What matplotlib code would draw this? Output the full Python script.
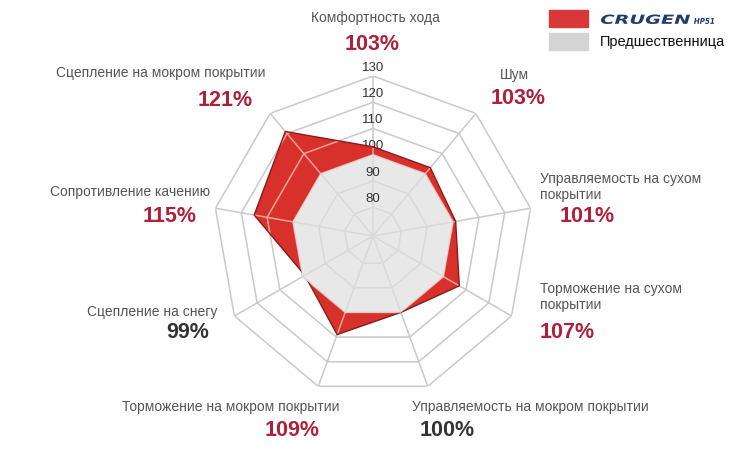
import numpy as np
import matplotlib
matplotlib.use("Agg")
import matplotlib.pyplot as plt
from matplotlib.patches import Rectangle, PathPatch
from matplotlib.textpath import TextPath
from matplotlib.font_manager import FontProperties
from matplotlib.transforms import Affine2D, IdentityTransform

plt.rcParams['font.family'] = ['Liberation Sans', 'DejaVu Sans']

# ---- data ----
categories = ["Комфортность хода", "Шум", "Управляемость на сухом\nпокрытии",
              "Торможение на сухом\nпокрытии", "Управляемость на мокром покрытии",
              "Торможение на мокром покрытии", "Сцепление на снегу",
              "Сопротивление качению", "Сцепление на мокром покрытии"]
new_values = [103, 103, 101, 107, 100, 109, 99, 115, 121]
old_values = [100, 100, 100, 100, 100, 100, 100, 100, 100]
ring_ticks = [80, 90, 100, 110, 120, 130]
series_names = ["CRUGEN", "Предшественница"]

# ---- layout (figure pixel coords, top-left origin) ----
W, H = 750, 450
label_pos = [(375, 18, 'center'), (514, 75, 'center'), (540, 187, 'left'),
             (540, 297, 'left'), (530, 407, 'center'), (231, 407, 'center'),
             (217, 312, 'right'), (210, 192, 'right'), (266, 73, 'right')]
pct_pos = [(372, 44, 'center'), (518, 99, 'center'), (560, 216, 'left'),
           (540, 332, 'left'), (420, 431, 'left'), (292, 430, 'center'),
           (209, 333, 'right'), (197, 216, 'right'), (253, 100, 'right')]

fig = plt.figure(figsize=(7.5, 4.5), dpi=100)
cx, cy, R = 373, 236, 160
ax = fig.add_axes([(cx - R) / W, 1 - (cy + R) / H, 2 * R / W, 2 * R / H],
                  projection='polar')
ax.set_theta_zero_location('N')
ax.set_theta_direction(-1)
rmin, rmax = 69, 130
ax.set_ylim(rmin, rmax)
ax.grid(False)
ax.spines['polar'].set_visible(False)
ax.set_xticks([])
ax.set_yticks([])
ax.patch.set_alpha(0)

n = len(categories)
ang = np.arange(n) * 2 * np.pi / n
ang_c = np.append(ang, ang[0])


def draw_grid(color, z, clip=None):
    lines = []
    for t in ring_ticks:
        lines += ax.plot(ang_c, [t] * (n + 1), color=color, lw=1.1, zorder=z)
    for a in ang:
        lines += ax.plot([a, a], [rmin, rmax], color=color, lw=1.1, zorder=z)
    if clip is not None:
        for l in lines:
            l.set_clip_path(clip)


draw_grid('#c9c9c9', 1)

# tick labels
for t in ring_ticks:
    z = 1.5 if t == 100 else 6
    ax.text(0, t + 3.2, str(t), ha='center', va='center', fontsize=9.5,
            color='#333333', zorder=z)

# new tyre polygon
newc = np.append(new_values, new_values[0])
red = ax.fill(ang_c, newc, color='#d8302b', zorder=2, lw=0)[0]
ax.plot(ang_c, newc, color='#8c1a1a', lw=1.0, zorder=2.2)
draw_grid('#f3a596', 2.1, red)

# predecessor polygon
oldc = np.append(old_values, old_values[0])
gray = ax.fill(ang_c, oldc, color='#e8e8e8', zorder=3, lw=0)[0]
draw_grid('#d9d9d9', 3.1, gray)

# category labels and percentages
for i, cat in enumerate(categories):
    x, y, ha = label_pos[i]
    fig.text(x / W, 1 - y / H, cat, ha=ha, va='center', fontsize=10,
             color='#555555', linespacing=1.25)
    x, y, ha = pct_pos[i]
    col = '#b0203a' if new_values[i] > 100 else '#333333'
    fig.text(x / W, 1 - y / H, f"{new_values[i]}%", ha=ha, va='center',
             fontsize=15.5, fontweight='bold', color=col)

# legend
fig.patches.append(Rectangle((549 / W, 1 - 27 / H), 39 / W, 17 / H,
                             transform=fig.transFigure, color='#d8383a'))
fig.patches.append(Rectangle((549 / W, 1 - 50 / H), 39 / W, 17 / H,
                             transform=fig.transFigure, color='#d4d4d4'))
fp = FontProperties(family='DejaVu Sans', weight='bold', style='italic')
tp = TextPath((0, 0), series_names[0], size=12.5, prop=fp)
ext = tp.get_extents()
sx = 89 / ext.width
sy = 9.5 / ext.height
tr = Affine2D().translate(-ext.x0, -ext.y0).scale(sx, sy).translate(601, H - 24) + IdentityTransform()
fig.patches.append(PathPatch(tp, transform=tr, color='#1f3c6e', lw=0))
tp2 = TextPath((0, 0), "HP51", size=7, prop=fp)
ext2 = tp2.get_extents()
tr2 = Affine2D().translate(-ext2.x0, -ext2.y0).scale(20 / ext2.width, 6 / ext2.height).translate(694, H - 24) + IdentityTransform()
fig.patches.append(PathPatch(tp2, transform=tr2, color='#1f3c6e', lw=0))
fig.text(600 / W, 1 - 42 / H, series_names[1], ha='left', va='center',
         fontsize=10.5, color='#111111')

fig.savefig('out.png', dpi=100)
